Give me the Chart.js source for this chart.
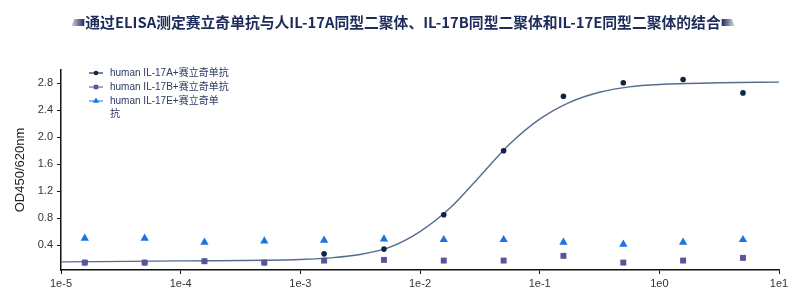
<!DOCTYPE html>
<html>
<head>
<meta charset="utf-8">
<script src="https://cdn.jsdelivr.net/npm/chart.js@4.4.0/dist/chart.umd.min.js"></script>
<style>
  html, body { margin: 0; padding: 0; background: #fff; }
  #wrap { width: 800px; height: 299px; }
</style>
</head>
<body>
<div id="wrap"><canvas id="elisaChart" width="800" height="299"></canvas></div>
<script>
// concentrations (x) and OD readings
var conc = [0.0000158, 0.00005, 0.000158, 0.0005, 0.00158, 0.005, 0.0158, 0.05, 0.158, 0.5, 1.58, 5];
var il17a = [0.14, 0.14, 0.16, 0.14, 0.27, 0.34, 0.85, 1.80, 2.61, 2.81, 2.86, 2.66];
var il17b = [0.14, 0.14, 0.16, 0.14, 0.17, 0.18, 0.17, 0.17, 0.24, 0.14, 0.17, 0.21];
var il17e = [0.50, 0.50, 0.44, 0.46, 0.47, 0.49, 0.48, 0.48, 0.44, 0.41, 0.44, 0.48];

// fitted curve for IL-17A
var fitConc = [1e-5, 1e-4, 1e-3, 0.00178, 0.00316, 0.00562, 0.01, 0.0178, 0.0316, 0.0562, 0.1, 0.178, 0.316, 0.562, 1, 3.16, 10];
var fitOD = [0.15, 0.165, 0.185, 0.21, 0.26, 0.37, 0.60, 0.95, 1.42, 1.90, 2.27, 2.52, 2.67, 2.75, 2.785, 2.81, 2.82];

var seriesNames = ["human IL-17A+赛立奇单抗", "human IL-17B+赛立奇单抗", "human IL-17E+赛立奇单抗"];
// how the legend text breaks in the original
var legendLines = [["human IL-17A+赛立奇单抗"], ["human IL-17B+赛立奇单抗"], ["human IL-17E+赛立奇单", "抗"]];
var xTickValues = [1e-5, 1e-4, 1e-3, 1e-2, 1e-1, 1, 10];
var xTickLabels = ["1e-5", "1e-4", "1e-3", "1e-2", "1e-1", "1e0", "1e1"];
var yTickValues = [0.4, 0.8, 1.2, 1.6, 2.0, 2.4, 2.8];
var titleText = "通过ELISA测定赛立奇单抗与人IL-17A同型二聚体、IL-17B同型二聚体和IL-17E同型二聚体的结合";

function toPoints(xs, ys) {
    var pts = [];
    for (var i = 0; i < xs.length; i++) pts.push({ x: xs[i], y: ys[i] });
    return pts;
}

var tickFont = { family: '"Liberation Sans", Arial, sans-serif', size: 11 };

// legend drawn inside the plot, line + marker like the original
var insideLegend = {
    id: "insideLegend",
    afterDraw: function (chart) {
        var ctx = chart.ctx;
        var y = 73;
        ctx.save();
        ctx.font = '10px "Liberation Sans", "Noto Sans CJK SC", sans-serif';
        ctx.textBaseline = "middle";
        for (var i = 0; i < 3; i++) {
            var ds = chart.data.datasets[i];
            ctx.strokeStyle = ds.legendColor;
            ctx.lineWidth = 1.2;
            ctx.beginPath();
            ctx.moveTo(89, y);
            ctx.lineTo(103, y);
            ctx.stroke();
            ctx.fillStyle = ds.backgroundColor;
            Chart.helpers.drawPoint(ctx, { pointStyle: ds.pointStyle, radius: ds.legendRadius, rotation: 0, borderWidth: 0 }, 96, y);
            ctx.fillStyle = "#2b3a66";
            var lines = legendLines[i];
            for (var l = 0; l < lines.length; l++) {
                ctx.fillText(lines[l], 110, y + l * 13);
            }
            y += 14 + (lines.length - 1) * 13;
        }
        ctx.restore();
    }
};

// title text plus the little slanted bars either side of it
var titleDecor = {
    id: "titleDecor",
    afterDraw: function (chart) {
        var ctx = chart.ctx;
        ctx.save();
        ctx.font = 'bold 14.8px "Noto Sans CJK SC", sans-serif';
        ctx.fillStyle = "#1c2b5a";
        ctx.textAlign = "center";
        ctx.textBaseline = "middle";
        var cx = 403, cy = 22;
        ctx.fillText(titleText, cx, cy);
        var w = ctx.measureText(titleText).width;
        var l = cx - w / 2 - 1, r = cx + w / 2 + 1;
        var g = ctx.createLinearGradient(l - 13, 0, l, 0);
        g.addColorStop(0, "rgba(40,55,100,0.2)");
        g.addColorStop(1, "#1c2b5a");
        ctx.fillStyle = g;
        ctx.beginPath();
        ctx.moveTo(l - 13, cy + 4);
        ctx.lineTo(l - 10, cy - 3);
        ctx.lineTo(l, cy - 3);
        ctx.lineTo(l, cy + 4);
        ctx.closePath();
        ctx.fill();
        var g2 = ctx.createLinearGradient(r, 0, r + 13, 0);
        g2.addColorStop(0, "#1c2b5a");
        g2.addColorStop(1, "rgba(40,55,100,0.2)");
        ctx.fillStyle = g2;
        ctx.beginPath();
        ctx.moveTo(r, cy - 3);
        ctx.lineTo(r + 10, cy - 3);
        ctx.lineTo(r + 13, cy + 4);
        ctx.lineTo(r, cy + 4);
        ctx.closePath();
        ctx.fill();
        ctx.restore();
    }
};

var chartCanvas = document.getElementById("elisaChart").getContext("2d");
var myChart = new Chart(chartCanvas, {
    type: "scatter",
    data: {
        datasets: [
            {
                label: seriesNames[0],
                data: toPoints(conc, il17a),
                pointStyle: "circle",
                pointRadius: 2.8,
                backgroundColor: "#0f2447",
                borderWidth: 0,
                legendColor: "#1f2f55",
                legendRadius: 2.3,
                order: 2
            },
            {
                label: seriesNames[1],
                data: toPoints(conc, il17b),
                pointStyle: "rect",
                pointRadius: 4.2,
                backgroundColor: "#57569a",
                borderWidth: 0,
                legendColor: "#6b6a9c",
                legendRadius: 3.2,
                order: 0
            },
            {
                label: seriesNames[2],
                data: toPoints(conc, il17e),
                pointStyle: "triangle",
                pointRadius: 4.8,
                backgroundColor: "#1a73e0",
                borderWidth: 0,
                legendColor: "#3d88e6",
                legendRadius: 3.6,
                order: 1
            },
            {
                type: "line",
                label: "fit",
                data: toPoints(fitConc, fitOD),
                borderColor: "#566c8e",
                borderWidth: 1.4,
                pointRadius: 0,
                fill: false,
                cubicInterpolationMode: "monotone",
                order: 3
            }
        ]
    },
    options: {
        responsive: false,
        animation: false,
        layout: { padding: { left: 0, right: 21, top: 70, bottom: 0 } },
        plugins: {
            legend: { display: false },
            tooltip: { enabled: false },
            title: { display: false }
        },
        scales: {
            x: {
                type: "logarithmic",
                min: 1e-5,
                max: 10,
                afterBuildTicks: function (scale) {
                    scale.ticks = xTickValues.map(function (v) { return { value: v }; });
                },
                afterFit: function (scale) { scale.height = 29; },
                grid: { display: true, drawOnChartArea: false, drawTicks: true, tickLength: 4, color: "#111", lineWidth: 1 },
                border: { display: true, color: "#111", width: 1.5 },
                ticks: {
                    color: "#333",
                    font: tickFont,
                    padding: 3,
                    maxRotation: 0,
                    autoSkip: false,
                    callback: function (value, index) { return xTickLabels[index]; }
                }
            },
            y: {
                type: "linear",
                min: 0.03,
                max: 3.0,
                afterBuildTicks: function (scale) {
                    scale.ticks = yTickValues.map(function (v) { return { value: v }; });
                },
                afterFit: function (scale) { scale.width = 61; },
                grid: { display: true, drawOnChartArea: false, drawTicks: true, tickLength: 4, color: "#111", lineWidth: 1 },
                border: { display: true, color: "#111", width: 1.5 },
                ticks: {
                    color: "#333",
                    font: tickFont,
                    padding: 4,
                    callback: function (value) { return value.toFixed(1); }
                },
                title: {
                    display: true,
                    text: "OD450/620nm",
                    color: "#222",
                    font: { family: '"Liberation Sans", Arial, sans-serif', size: 13 },
                    padding: { top: 13, bottom: 0 }
                }
            }
        }
    },
    plugins: [insideLegend, titleDecor]
});
</script>
</body>
</html>
